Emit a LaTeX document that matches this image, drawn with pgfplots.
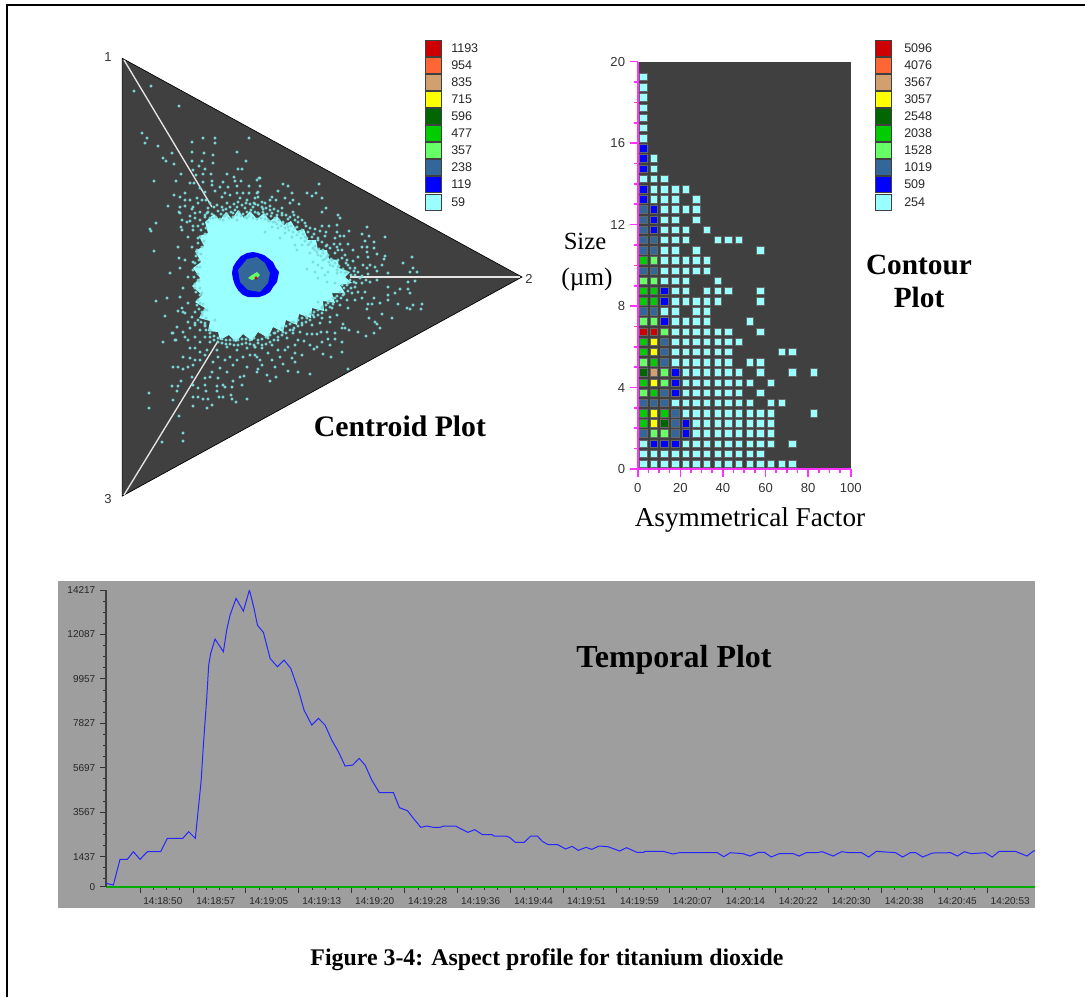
\documentclass[border=0pt]{standalone}
\usepackage{pgfplots}
\pgfplotsset{compat=1.18}
\usepackage{fontspec}
\setmainfont{Liberation Sans}
\newfontfamily\tnr{Liberation Serif}
\definecolor{cRed}{HTML}{CC0000}
\definecolor{cOrange}{HTML}{FF6633}
\definecolor{cTan}{HTML}{D2A06E}
\definecolor{cYellow}{HTML}{FFFF00}
\definecolor{cDark}{HTML}{006600}
\definecolor{cGreen}{HTML}{00CC00}
\definecolor{cLight}{HTML}{66FF66}
\definecolor{cSteel}{HTML}{336699}
\definecolor{cBlue}{HTML}{0000FF}
\definecolor{cCyan}{HTML}{99FFFF}
\definecolor{cDot}{HTML}{7FDCDC}
\definecolor{cBg}{HTML}{404040}
\definecolor{cPanel}{HTML}{9E9E9E}
\definecolor{cMag}{HTML}{FF33FF}
\newcommand\swatch[3]{\addplot[only marks,mark=square*,mark size=6pt,mark options={fill=#1,draw=black!75,line width=0.7pt}] coordinates {(#2,#3)};}
\pgfplotsset{cell/.style={only marks,mark=square*,mark size=2.8pt,mark options={fill=#1,draw=black!60,line width=0.3pt}}}
\begin{document}
\begin{tikzpicture}
\useasboundingbox (0,0) rectangle (813.75pt,-747.75pt);
% ---------- page axis, in pixels of the sheet: frame, centroid plot, legends, texts
\begin{axis}[at={(0,-747.75pt)},anchor=south west,scale only axis,width=813.75pt,height=747.75pt,
 xmin=0,xmax=1085,ymin=0,ymax=997,y dir=reverse,hide axis,clip=false]
\addplot[black,line width=1.5pt] coordinates {(7,997)(7,5)(1085,5)};
\addplot[fill=cBg,draw=black,line width=0.5pt] coordinates {(122.3,58.3)(522,277)(122.3,496)} --cycle;
\addplot[only marks,mark=*,mark size=0.95pt,color=cDot,mark options={draw=none,fill=cDot}] coordinates {
(134,91)(151,86)(179,106)(142,133)(147,138)(145,143)(158,146)(163,158)(174,164)(166,161)(154,181)(176,181)(168,206)(156,223)(151,231)(154,251)(170,273)(179,258)(156,301)(167,298)(165,316)(163,342)(175,340)(173,333)(149,393)(149,408)(179,416)(183,433)(183,441)(162,442)
(172,153)(192,142)(203,138)(215,138)(215,143)(249,138)(192,152)(204,153)(202,161)(213,155)(213,163)(192,161)(237,152)(246,161)(199,166)(205,169)(238,169)(242,169)(181,174)(193,170)(196,175)(203,174)(211,174)(227,174)(234,177)(190,183)(194,183)(203,182)(212,181)(212,185)(223,182)(235,181)(241,181)(259,178)(220,187)(228,187)(237,186)(249,186)(200,188)(215,191)(205,192)(225,193)(237,193)(243,193)(249,193)(258,192)(174,195)(185,193)(180,197)(185,200)(190,200)(197,198)(202,200)(180,207)(185,206)(193,207)(198,203)(179,212)(192,209)(182,220)(190,216)(195,213)(200,212)(190,221)(195,218)(200,220)(150,229)(181,227)(193,226)(198,226)
(222,197)(230,195)(240,198)(247,200)(255,198)(227,203)(237,207)(245,208)(253,207)(258,213)(233,213)(223,210)(217,205)(208,208)(205,215)(213,218)(223,220)(247,218)(237,220)
(260,178)(257,180)(260,186)(283,184)(288,186)(319,184)(278,191)(292,193)(307,193)(316,193)(312,196)(257,193)(258,197)(272,197)(285,198)(322,198)(293,200)(270,200)(276,200)(262,202)(265,203)(290,203)(299,204)(255,204)(326,208)(322,212)(282,208)(263,209)(270,210)(272,213)(293,212)(338,215)(340,218)(288,219)(282,215)(277,215)(265,215)(258,213)(295,220)(298,222)(275,222)(283,223)(268,220)(305,223)(322,226)(329,226)(337,225)(367,227)(315,229)(326,232)(320,231)(349,231)(337,232)(362,234)(265,232)(278,228)(272,227)(288,227)(297,227)(302,230)(308,232)(369,236)(385,237)(340,236)(344,236)(325,236)(335,238)(280,238)(292,237)(285,233)(305,237)(312,237)(318,238)(365,241)(374,242)(340,244)(348,244)(362,247)(367,247)(374,248)(337,247)(327,245)(295,245)(302,245)(308,245)(353,250)(342,250)(315,250)(323,250)(367,252)(345,255)(335,253)(328,255)(297,250)(310,253)(318,255)(377,254)(385,256)(358,257)(368,257)(384,259)(412,257)(403,263)(332,260)(338,260)(347,260)(353,261)(323,260)(313,262)(318,265)(307,269)(315,272)(322,268)(330,265)(338,267)(348,265)(355,268)(363,265)(370,265)(375,267)(382,265)(367,268)(377,271)(413,268)(410,272)(417,272)(388,273)(328,272)(337,273)(345,273)(355,275)(368,274)(325,275)
(408,282)(415,281)(388,287)(400,289)(408,289)(410,293)(395,293)(388,295)(388,300)(374,298)(368,304)(372,304)(380,303)(398,304)(422,304)(413,305)(407,308)(410,309)(421,309)(367,309)(382,314)(369,318)(392,318)(375,322)(377,324)(380,328)(343,324)(342,328)(345,328)(349,330)(358,332)(374,333)(366,336)(330,322)(335,333)(327,332)(321,332)(307,334)(312,334)(317,334)(335,339)(328,339)(322,342)(342,342)(304,341)(298,340)(310,345)(317,347)(330,345)(314,349)(295,345)(288,347)(342,352)(323,354)(331,357)(302,355)(295,353)(285,350)(278,350)(272,345)(278,340)(287,338)(293,333)(300,332)(283,332)(275,333)(268,338)(262,348)(268,353)(280,357)(292,358)(295,362)(272,360)(275,367)(283,364)(260,360)(262,365)(258,369)(267,375)(288,371)(298,372)(310,374)(276,377)(270,381)(348,369)(255,355)(255,347)
(318,278)(327,282)(335,283)(342,285)(348,283)(355,287)(362,283)(370,282)(377,280)(358,292)(365,292)(352,293)(343,295)(335,298)(355,300)(347,300)(362,298)(328,303)(340,305)(348,308)(332,308)(322,308)(318,302)(337,315)(330,317)(322,318)(313,315)(307,318)(312,325)(320,323)(302,325)(293,330)(292,322)
(172,333)(177,327)(183,332)(188,340)(185,337)(176,340)(178,311)(182,308)(188,322)(185,313)(190,328)(195,323)(200,330)(195,337)(200,342)(205,337)(210,342)(183,357)(190,348)(195,348)(190,358)(195,360)(200,352)(205,355)(200,360)(173,367)(178,367)(183,369)(188,367)(193,365)(213,362)(218,357)(225,360)(230,357)(237,360)(243,357)(250,355)(257,357)(212,372)(220,368)(227,372)(233,365)(247,367)(257,372)(181,381)(172,386)(178,386)(177,391)(173,400)(192,377)(193,385)(198,388)(205,378)(210,377)(218,378)(205,385)(206,391)(217,386)(223,385)(233,381)(240,377)(244,376)(232,387)(242,385)(217,391)(225,387)(193,397)(198,397)(203,399)(208,399)(219,397)(223,397)(231,395)(232,399)(236,402)(247,399)(193,406)(207,408)(212,405)
(200,303)(195,312)(202,315)(198,320)(205,325)(210,330)(215,320)(205,310)(207,350)(217,350)(227,347)(237,350)(247,348)(255,347)
(180,213)(187,222)(182,230)(193,230)(188,237)(198,238)(192,247)(178,247)(197,253)(185,260)(193,262)(200,267)(180,268)(188,277)(198,280)(183,288)(195,288)(202,293)(180,297)(188,303)(197,305)(183,312)(192,317)(202,315)(195,325)(205,323)
(206,200)(210,203)(214,207)(218,211)(221,214)(208,212)(212,214)(216,217)(220,219)(224,216)(227,214)(231,212)(235,210)(239,212)(243,214)(247,212)(251,210)(255,212)(259,214)(263,212)(267,214)(271,216)(275,218)(279,220)(283,222)(287,224)(291,226)(295,228)(299,232)(303,234)(307,238)(311,242)(315,246)(319,249)(323,253)(327,257)(331,259)(335,263)(339,266)(343,269)(347,272)(351,275)
(222,207)(226,209)(230,207)(234,204)(238,202)(242,205)(246,203)(250,204)(254,203)(258,205)(262,207)(266,208)(270,206)(274,209)(278,211)(282,213)(286,215)(290,217)(294,215)(298,217)(302,220)(306,226)(310,228)(314,234)(318,240)(322,242)(326,246)(330,248)(334,244)(338,250)(342,258)(346,263)(350,268)(354,271)
(225,216)(229,218)(233,217)(237,215)(241,216)(245,217)(249,216)(253,218)(257,219)(261,218)(265,219)(269,221)(273,222)(277,224)(281,226)(285,228)(289,230)(293,232)(297,235)(301,238)(305,241)(309,244)(313,248)(317,252)(321,256)(325,259)(329,262)(333,266)(337,270)(341,272)
(350,280)(354,282)(347,285)(351,288)(344,288)(348,291)(340,292)(344,294)(337,296)(341,298)(333,298)(337,301)(329,301)(333,304)(326,305)(330,307)(322,307)(326,310)(318,310)(322,313)(314,312)(318,315)(310,314)(314,317)(306,316)(310,320)(302,318)(306,322)(298,320)(302,323)(294,322)(298,326)(290,324)(294,328)(286,326)(290,330)(282,328)(286,333)(278,331)(282,335)(274,333)(278,337)(270,335)(274,340)(266,337)(270,342)(262,339)(266,344)(258,340)(262,345)(254,338)(258,343)(250,340)(254,345)(246,339)(250,344)(242,339)(246,343)(238,340)(242,344)(234,340)(238,345)(230,340)(234,345)(226,340)(230,344)(222,339)(226,344)(218,338)(222,343)(214,336)(218,342)(210,333)(214,340)(206,330)(210,337)
(205,326)(201,322)(206,318)(202,312)(207,310)(199,309)(203,304)(198,300)(200,295)(196,292)(200,288)(195,284)(199,281)(194,277)(198,274)(193,270)(197,267)(195,263)(199,260)(196,256)(201,254)(197,250)(202,247)(198,243)(204,241)(200,237)(205,234)(201,230)(206,228)(203,224)(208,222)(205,217)(210,218)(207,213)
(360,278)(356,283)(362,276)(358,272)(366,280)
};
\addplot[fill=cCyan,draw=none] coordinates {(214,214)(220,220)(226,212)(232,219)(238,210)(244,218)(250,211)(257,219)(264,213)(270,221)(277,216)(284,225)(291,221)(297,231)(304,229)(308,240)(316,240)(318,250)(327,250)(329,259)(338,260)(339,268)(350,272)(345,277)(352,283)(340,285)(345,293)(332,293)(335,303)(323,301)(324,311)(312,308)(311,318)(299,314)(297,325)(286,320)(283,332)(273,327)(268,338)(258,332)(252,341)(243,334)(236,342)(229,335)(220,340)(218,332)(208,331)(210,321)(199,318)(205,308)(195,302)(202,295)(192,286)(200,278)(193,268)(201,262)(195,251)(204,246)(199,236)(208,233)(205,222)} --cycle;
\addplot[color=white!90!black,line width=1pt] coordinates {(124,60)(212,207)};
\addplot[color=white!90!black,line width=1pt] coordinates {(350,277)(520,277)};
\addplot[color=white!90!black,line width=1pt] coordinates {(124,495)(218,341)};
\addplot[fill=cBlue,draw=none] coordinates {(247,253)(253,252)(258,253)(264,255)(268,258)(273,262)(276,268)(279,272)(278,277)(277,282)(273,287)(270,292)(265,295)(259,297)(253,297)(248,297)(243,295)(238,290)(235,285)(233,279)(232,273)(233,267)(236,262)(241,256)} --cycle;
\addplot[fill=cSteel,draw=none] coordinates {(247,259)(257,257)(265,263)(270,273)(268,283)(260,292)(248,290)(240,282)(238,270)} --cycle;
\addplot[fill=cLight,draw=none] coordinates {(248,278)(252,275)(257,272)(260,275)(257,278)(252,280)} --cycle;
\addplot[only marks,mark=*,mark size=1pt,color=cRed] coordinates {(256,278)};
% legends
\swatch{cRed}{433}{48}\swatch{cOrange}{433}{65}\swatch{cTan}{433}{82}\swatch{cYellow}{433}{99}\swatch{cDark}{433}{116}
\swatch{cGreen}{433}{133}\swatch{cLight}{433}{150}\swatch{cSteel}{433}{167}\swatch{cBlue}{433}{184}\swatch{cCyan}{433}{202}
\swatch{cRed}{883}{48}\swatch{cOrange}{883}{65}\swatch{cTan}{883}{82}\swatch{cYellow}{883}{99}\swatch{cDark}{883}{116}
\swatch{cGreen}{883}{133}\swatch{cLight}{883}{150}\swatch{cSteel}{883}{167}\swatch{cBlue}{883}{184}\swatch{cCyan}{883}{202}
\begin{scope}[every node/.style={anchor=west,inner sep=0pt,font=\fontsize{9.4pt}{11pt}\selectfont,text=black!85}]
\node at (axis cs:451,48){1193};\node at (axis cs:451,65){954};\node at (axis cs:451,82){835};\node at (axis cs:451,99){715};\node at (axis cs:451,116){596};
\node at (axis cs:451,133){477};\node at (axis cs:451,150){357};\node at (axis cs:451,167){238};\node at (axis cs:451,184){119};\node at (axis cs:451,202){59};
\node at (axis cs:904,48){5096};\node at (axis cs:904,65){4076};\node at (axis cs:904,82){3567};\node at (axis cs:904,99){3057};\node at (axis cs:904,116){2548};
\node at (axis cs:904,133){2038};\node at (axis cs:904,150){1528};\node at (axis cs:904,167){1019};\node at (axis cs:904,184){509};\node at (axis cs:904,202){254};
\end{scope}
\begin{scope}[every node/.style={inner sep=0pt,font=\fontsize{9.75pt}{11pt}\selectfont,text=black!80}]
\node at (axis cs:108,57){1};\node at (axis cs:529,279){2};\node at (axis cs:108,499){3};
\end{scope}
\node[inner sep=0pt,font=\tnr\bfseries\fontsize{22.3pt}{24pt}\selectfont] at (axis cs:400,426){Centroid Plot};
\node[inner sep=0pt,font=\tnr\bfseries\fontsize{22pt}{24pt}\selectfont] at (axis cs:919,265){Contour};
\node[inner sep=0pt,font=\tnr\bfseries\fontsize{22pt}{24pt}\selectfont] at (axis cs:919,297){Plot};
\node[inner sep=0pt,font=\tnr\fontsize{18.5pt}{20pt}\selectfont] at (axis cs:585,241){Size};
\node[inner sep=0pt,font=\tnr\fontsize{19pt}{21pt}\selectfont] at (axis cs:587,279){(µm)};
\node[inner sep=0pt,font=\tnr\fontsize{20.4pt}{22pt}\selectfont] at (axis cs:750,520){Asymmetrical Factor};
\node[inner sep=0pt,font=\tnr\bfseries\fontsize{17.9pt}{20pt}\selectfont] at (axis cs:547,960){Figure 3-4: Aspect profile for titanium dioxide};
\addplot[fill=cPanel,draw=none] coordinates {(58,581)(1035,581)(1035,908)(58,908)} --cycle;
\node[inner sep=0pt,font=\tnr\bfseries\fontsize{24pt}{26pt}\selectfont] at (axis cs:674,660){Temporal Plot};
\end{axis}
% ---------- contour plot
\begin{axis}[at={(478.3pt,-351.75pt)},anchor=south west,scale only axis,width=159.75pt,height=305.5pt,
 xmin=0,xmax=100,ymin=0,ymax=20,
 axis background/.style={fill=cBg},
 axis x line*=bottom,axis y line*=left,
 axis line style={cMag,line width=1.5pt,-},
 xtick={0,20,40,60,80,100},ytick={0,4,8,12,16,20},
 xticklabels={0,20,40,60,80,100},yticklabels={0,4,8,12,16,20},
 minor x tick num=3,minor y tick num=3,
 tick align=outside,
 every tick/.style={cMag,line width=1.2pt},
 major tick length=6pt,minor tick length=3pt,
 tick label style={font=\fontsize{9.8pt}{11pt}\selectfont,text=black!80},
 x tick label style={yshift=-1pt},
 ]
\addplot[cell=cCyan] coordinates {(2.5,19.25)(2.5,18.75)(2.5,18.25)(2.5,17.75)(2.5,17.25)(2.5,16.75)(2.5,16.25)(7.5,15.25)(7.5,14.75)(2.5,14.25)(7.5,14.25)(12.5,14.25)
(7.5,13.75)(12.5,13.75)(17.5,13.75)(22.5,13.75)(7.5,13.25)(12.5,13.25)(17.5,13.25)(27.5,13.25)(12.5,12.75)(17.5,12.75)(22.5,12.75)(27.5,12.75)(12.5,12.25)(17.5,12.25)(27.5,12.25)
(12.5,11.75)(17.5,11.75)(22.5,11.75)(32.5,11.75)(12.5,11.25)(17.5,11.25)(22.5,11.25)(37.5,11.25)(42.5,11.25)(47.5,11.25)(12.5,10.75)(17.5,10.75)(27.5,10.75)(57.5,10.75)
(12.5,10.25)(17.5,10.25)(22.5,10.25)(27.5,10.25)(32.5,10.25)(12.5,9.75)(17.5,9.75)(22.5,9.75)(27.5,9.75)(32.5,9.75)(12.5,9.25)(17.5,9.25)(22.5,9.25)(37.5,9.25)
(17.5,8.75)(22.5,8.75)(32.5,8.75)(37.5,8.75)(42.5,8.75)(57.5,8.75)(17.5,8.25)(22.5,8.25)(27.5,8.25)(32.5,8.25)(37.5,8.25)(57.5,8.25)(12.5,7.75)(17.5,7.75)(27.5,7.75)(32.5,7.75)
(17.5,7.25)(22.5,7.25)(27.5,7.25)(32.5,7.25)(52.5,7.25)(17.5,6.75)(22.5,6.75)(27.5,6.75)(32.5,6.75)(37.5,6.75)(42.5,6.75)(57.5,6.75)
(17.5,6.25)(22.5,6.25)(27.5,6.25)(32.5,6.25)(37.5,6.25)(42.5,6.25)(47.5,6.25)(17.5,5.75)(22.5,5.75)(27.5,5.75)(32.5,5.75)(37.5,5.75)(42.5,5.75)(67.5,5.75)(72.5,5.75)
(17.5,5.25)(22.5,5.25)(27.5,5.25)(32.5,5.25)(37.5,5.25)(42.5,5.25)(52.5,5.25)(57.5,5.25)(22.5,4.75)(27.5,4.75)(32.5,4.75)(37.5,4.75)(42.5,4.75)(47.5,4.75)(57.5,4.75)(72.5,4.75)(82.5,4.75)
(22.5,4.25)(27.5,4.25)(32.5,4.25)(37.5,4.25)(42.5,4.25)(47.5,4.25)(52.5,4.25)(62.5,4.25)(22.5,3.75)(27.5,3.75)(32.5,3.75)(37.5,3.75)(42.5,3.75)(47.5,3.75)(57.5,3.75)
(17.5,3.25)(22.5,3.25)(27.5,3.25)(32.5,3.25)(37.5,3.25)(42.5,3.25)(47.5,3.25)(52.5,3.25)(62.5,3.25)(67.5,3.25)
(22.5,2.75)(27.5,2.75)(32.5,2.75)(37.5,2.75)(42.5,2.75)(47.5,2.75)(52.5,2.75)(57.5,2.75)(62.5,2.75)(82.5,2.75)
(27.5,2.25)(32.5,2.25)(37.5,2.25)(42.5,2.25)(47.5,2.25)(52.5,2.25)(57.5,2.25)(62.5,2.25)(27.5,1.75)(32.5,1.75)(37.5,1.75)(42.5,1.75)(47.5,1.75)(52.5,1.75)(57.5,1.75)(62.5,1.75)
(2.5,1.25)(22.5,1.25)(27.5,1.25)(32.5,1.25)(37.5,1.25)(42.5,1.25)(47.5,1.25)(52.5,1.25)(57.5,1.25)(62.5,1.25)(72.5,1.25)
(2.5,0.75)(7.5,0.75)(12.5,0.75)(17.5,0.75)(22.5,0.75)(27.5,0.75)(32.5,0.75)(37.5,0.75)(42.5,0.75)(47.5,0.75)(52.5,0.75)(57.5,0.75)
(2.5,0.25)(7.5,0.25)(12.5,0.25)(17.5,0.25)(22.5,0.25)(27.5,0.25)(32.5,0.25)(37.5,0.25)(42.5,0.25)(47.5,0.25)(52.5,0.25)(57.5,0.25)(62.5,0.25)(67.5,0.25)(72.5,0.25)};
\addplot[cell=cBlue] coordinates {(2.5,15.75)(2.5,15.25)(2.5,14.75)(2.5,13.75)(2.5,13.25)(7.5,12.75)(7.5,12.25)(7.5,11.75)(12.5,8.75)(12.5,8.25)(12.5,7.25)(17.5,4.75)(17.5,4.25)(17.5,3.75)(22.5,2.25)(22.5,1.75)(7.5,1.25)(12.5,1.25)(17.5,1.25)};
\addplot[cell=cSteel] coordinates {(2.5,12.75)(2.5,12.25)(2.5,11.75)(2.5,11.25)(7.5,11.25)(2.5,10.75)(7.5,10.75)(2.5,9.75)(7.5,9.75)(2.5,7.75)(7.5,7.75)(12.5,6.25)(12.5,5.75)(12.5,5.25)(12.5,3.75)(2.5,3.25)(7.5,3.25)(12.5,3.25)(17.5,2.75)(17.5,2.25)(2.5,1.75)(17.5,1.75)};
\addplot[cell=cLight] coordinates {(7.5,10.25)(2.5,9.25)(7.5,9.25)(2.5,7.25)(7.5,7.25)(12.5,6.75)(2.5,5.25)(12.5,4.75)(12.5,4.25)(2.5,3.75)(7.5,1.75)(12.5,1.75)};
\addplot[cell=cGreen] coordinates {(2.5,10.25)(2.5,8.75)(7.5,8.75)(2.5,8.25)(7.5,8.25)(2.5,6.25)(2.5,5.75)(7.5,5.25)(2.5,4.25)(7.5,3.75)(2.5,2.75)(12.5,2.75)(2.5,2.25)};
\addplot[cell=cDark] coordinates {(2.5,4.75)(12.5,2.25)};
\addplot[cell=cYellow] coordinates {(7.5,6.25)(7.5,5.75)(7.5,4.25)(7.5,2.75)(7.5,2.25)};
\addplot[cell=cTan] coordinates {(7.5,4.75)};
\addplot[cell=cRed] coordinates {(2.5,6.75)(7.5,6.75)};
\end{axis}
% ---------- temporal plot
\begin{axis}[at={(79.5pt,-665pt)},anchor=south west,scale only axis,width=696.75pt,height=222.5pt,
 xmin=-4.94,xmax=129.92,ymin=0,ymax=14217,scaled ticks=false,
 axis x line*=bottom,axis y line*=left,
 x axis line style={color=cGreen!85!black,line width=1.5pt,-},
 y axis line style={color=black!75,line width=1.2pt,-},
 xtick={0,7.6875,15.375,23.0625,30.75,38.4375,46.125,53.8125,61.5,69.1875,76.875,84.5625,92.25,99.9375,107.625,115.3125,123},
 xticklabels={14:18:50,14:18:57,14:19:05,14:19:13,14:19:20,14:19:28,14:19:36,14:19:44,14:19:51,14:19:59,14:20:07,14:20:14,14:20:22,14:20:30,14:20:38,14:20:45,14:20:53},
 minor x tick num=3,
 ytick={0,1437,3567,5697,7827,9957,12087,14217},
 yticklabels={0,1437,3567,5697,7827,9957,12087,14217},
 minor ytick={372,904.5,1969.5,2502,3034.5,4099.5,4632,5164.5,6229.5,6762,7294.5,8359.5,8892,9424.5,10489.5,11022,11554.5,12619.5,13152,13684.5},
 tick align=outside,
 every tick/.style={black!80,line width=0.7pt},
 major tick length=4.5pt,minor tick length=2.3pt,
 tick label style={font=\fontsize{7.5pt}{9pt}\selectfont,text=black!85},
 x tick label style={anchor=north west,xshift=-1pt,yshift=0pt},
 ]
\addplot[color=blue!85!white,line width=0.75pt] coordinates {
(-4.94,160)(-3.87,80)(-2.90,1310)(-1.84,1310)(-0.97,1677)(0,1310)(1.06,1677)(3.00,1677)(3.97,2316)(6.20,2316)(7.07,2635)(8.03,2316)(8.47,3753)(8.86,5030)(9.20,6787)(9.44,7905)(9.68,9023)(9.97,10620)(10.26,11179)(10.89,11866)(12.10,11259)(12.58,12297)(13.07,13016)(13.94,13814)(15.00,13207)(15.88,14217)(16.55,13335)(17.04,12536)(17.91,12185)(18.39,11578)(18.88,10939)(19.94,10540)(20.91,10860)(21.88,10460)(22.99,9422)(23.81,8464)(24.93,7745)(25.90,8065)(26.86,7745)(27.83,7027)(28.80,6468)(29.77,5781)(30.88,5829)(31.80,6148)(32.67,5829)(33.64,5110)(34.75,4503)(36.79,4503)(37.66,3785)(38.82,3641)(39.69,3274)(40.76,2843)(41.63,2907)(42.59,2843)(43.55,2843)(44.11,2907)(45.79,2907)(47.59,2603)(48.59,2731)(49.72,2491)(51.12,2491)(51.40,2427)(53.08,2427)(53.64,2364)(54.48,2124)(55.77,2124)(56.72,2427)(57.68,2427)(58.40,2172)(59.25,2012)(60.65,2012)(61.77,1805)(62.72,1932)(63.62,1741)(64.74,1884)(65.58,1789)(66.64,1948)(67.93,1916)(69.62,1709)(70.62,1868)(72.14,1645)(73.15,1645)(73.26,1693)(75.95,1693)(77.35,1565)(78.30,1629)(83.80,1629)(84.75,1437)(85.70,1629)(87.55,1581)(88.56,1469)(89.79,1645)(90.64,1645)(91.64,1421)(92.77,1581)(94.84,1581)(95.68,1469)(96.69,1629)(98.20,1629)(99.04,1677)(100.61,1469)(101.85,1677)(102.97,1629)(104.76,1629)(105.77,1421)(106.89,1693)(109.69,1629)(110.70,1421)(111.82,1629)(112.61,1629)(113.62,1421)(115.02,1613)(117.66,1629)(118.66,1469)(119.67,1677)(120.63,1581)(122.70,1629)(123.71,1421)(124.72,1693)(127.07,1693)(128.75,1469)(129.76,1725)(129.92,1700)};
\end{axis}
\end{tikzpicture}
\end{document}
